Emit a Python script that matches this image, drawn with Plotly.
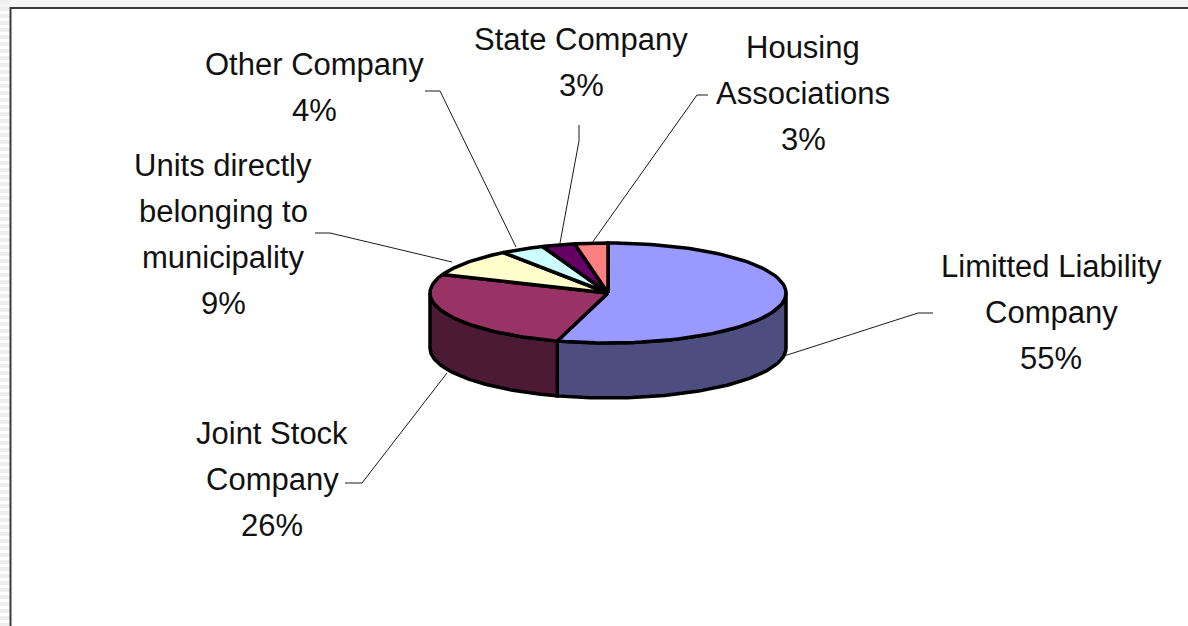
import numpy as np
import plotly.graph_objects as go

label_lines = [["Limitted Liability", "Company"], ["Joint Stock", "Company"],
               ["Units directly", "belonging to", "municipality"],
               ["Other Company"], ["State Company"], ["Housing", "Associations"]]
percent_labels = ["55%", "26%", "9%", "4%", "3%", "3%"]
slice_values = [54.6, 26.4, 9, 4, 3, 3]
top_colors = ["#9999ff", "#993366", "#ffffcc", "#ccffff", "#660066", "#ff8080"]
side_colors = ["#4d4d80", "#4d1a33", "#808066", "#668080", "#330033", "#804040"]
label_x = [1051, 272, 223, 314, 581, 803]
label_first_y = [266, 433, 165, 64, 39, 47]
leader_x = [[784, 918, 933], [447, 362, 345], [452, 330, 315], [516, 440, 425], [560, 579, 579], [592, 697, 708]]
leader_y = [[356, 313, 313], [373, 483, 483], [262, 233, 233], [247, 91, 91], [243, 141, 125], [243, 95, 95]]

CX, CY, RX, RY, DEPTH = 608, 293, 178, 50, 55
LINE_STEP = 46


def rim(a0, a1, n=80):
    t = np.radians(np.linspace(a0, a1, n))
    return CX + RX * np.sin(t), CY - RY * np.cos(t)


fig = go.Figure()
edges = np.cumsum([0] + slice_values) * 3.6

# side walls (only the front half of the disc is visible)
for i in range(len(slice_values)):
    a0, a1 = max(edges[i], 90), min(edges[i + 1], 270)
    if a0 >= a1:
        continue
    x, y = rim(a0, a1)
    fig.add_trace(go.Scatter(
        x=np.r_[x, x[::-1], x[0]], y=np.r_[y, y[::-1] + DEPTH, y[0]], mode="lines", fill="toself",
        fillcolor=side_colors[i], line=dict(color="black", width=3.5), hoverinfo="skip", showlegend=False))

# top faces
for i in range(len(slice_values)):
    x, y = rim(edges[i], edges[i + 1])
    fig.add_trace(go.Scatter(
        x=np.r_[CX, x, CX], y=np.r_[CY, y, CY], mode="lines", fill="toself",
        fillcolor=top_colors[i], line=dict(color="black", width=3.5), name=" ".join(label_lines[i]),
        text=percent_labels[i], hoverinfo="name+text", showlegend=False))

# leader lines
for lx, ly in zip(leader_x, leader_y):
    fig.add_trace(go.Scatter(x=lx, y=ly, mode="lines", line=dict(color="#1a1a1a", width=1),
                             hoverinfo="skip", showlegend=False))

# labels, one annotation per line because the line spacing is wider than Plotly's own
for lines, pct, x, y0 in zip(label_lines, percent_labels, label_x, label_first_y):
    for k, text in enumerate(lines + [pct]):
        fig.add_annotation(x=x, y=y0 + k * LINE_STEP, text=text, showarrow=False,
                           xanchor="center", yanchor="middle", align="center",
                           font=dict(family="Liberation Sans, Arial", size=31, color="#111111"))

# striped window edge and chart frame
fig.add_shape(type="rect", x0=0, x1=1188, y0=0, y1=7, line_width=0, fillcolor="#f4f4f4", layer="below")
fig.add_shape(type="line", x0=4.5, x1=4.5, y0=0, y1=626, line=dict(color="#eeeeee", width=9, dash="4px,3px"), layer="below")
fig.add_shape(type="line", x0=10.5, x1=10.5, y0=7, y1=626, line=dict(color="#3a3a3a", width=2))
fig.add_shape(type="line", x0=10, x1=1188, y0=8, y1=8, line=dict(color="#3a3a3a", width=2))

fig.update_layout(
    width=1188, height=626, margin=dict(l=0, r=0, t=0, b=0),
    paper_bgcolor="white", plot_bgcolor="white",
    xaxis=dict(range=[0, 1188], visible=False),
    yaxis=dict(range=[626, 0], visible=False),
)
fig.write_html("out.html", config={"displayModeBar": False},
               post_script="document.body.style.margin='0';document.body.style.overflow='hidden';")
